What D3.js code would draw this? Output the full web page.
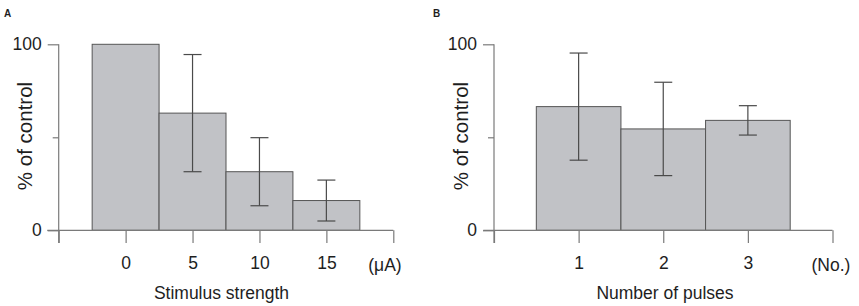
<!DOCTYPE html>
<html>
<head>
<meta charset="utf-8">
<script src="https://cdn.jsdelivr.net/npm/d3@7"></script>
<style>
  html, body { margin: 0; padding: 0; background: #fff; }
  svg { display: block; }
  text { font-family: "Liberation Sans", Arial, Helvetica, sans-serif; fill: #1e1e1e; }
</style>
</head>
<body>
<svg id="chart" width="859" height="306"></svg>
<script>
// ---- Data ----
const stimulus = [0, 5, 10, 15];
const stimMean = [100, 63, 31.5, 16];
const stimErr  = [0, 31.5, 18.3, 11];
const stimTicks = [0, 5, 10, 15];

const pulses = [1, 2, 3];
const pulseMean = [66.5, 54.5, 59.1];
const pulseErr  = [28.8, 25.1, 7.9];
const pulseTicks = [1, 2, 3];

const yTickLabels = [0, 100];
const yTicks = [0, 50, 100];

// ---- Drawing ----
const svg = d3.select("#chart");
const y = d3.scaleLinear().domain([0, 100]).range([230.3, 44.3]);

const axisColor = "#7a7a7a";
const barFill = "#c1c2c6";
const barStroke = "#555";
const errColor = "#4a4a4a";

function panel(opts) {
  const { x, cats, means, errs, ticks, barW, leftPad, unitLabel, unitX, xTitle, xTitleX, yTitleX, letter, letterX } = opts;
  const g = svg.append("g");
  const x0 = x.range()[0], x1 = x.range()[1];
  const yBase = y(0);

  // bars
  g.selectAll("rect.bar").data(cats).enter().append("rect")
    .attr("x", d => x(d - barW / 2))
    .attr("y", (d, i) => y(means[i]))
    .attr("width", x(barW) - x(0))
    .attr("height", (d, i) => yBase - y(means[i]))
    .attr("fill", barFill)
    .attr("stroke", barStroke)
    .attr("stroke-width", 1);

  // error bars
  const capHalf = 9;
  cats.forEach((c, i) => {
    if (!errs[i]) return;
    const cx = x(c);
    const hi = y(means[i] + errs[i]), lo = y(means[i] - errs[i]);
    g.append("line").attr("x1", cx).attr("x2", cx).attr("y1", hi).attr("y2", lo)
      .attr("stroke", errColor).attr("stroke-width", 1.2);
    [hi, lo].forEach(v => g.append("line").attr("x1", cx - capHalf).attr("x2", cx + capHalf)
      .attr("y1", v).attr("y2", v).attr("stroke", errColor).attr("stroke-width", 1.2));
  });

  // y axis
  const yAx = g.append("g").attr("transform", `translate(${x0},0)`)
    .call(d3.axisLeft(y).tickValues(yTicks).tickSize(11).tickSizeOuter(0)
      .tickFormat(d => yTickLabels.includes(d) ? d : "").tickPadding(6));
  yAx.select(".domain").remove();
  yAx.selectAll(".tick line").attr("stroke", axisColor).attr("stroke-width", 1.2)
    .filter(d => d === 50).attr("x2", -6);
  yAx.selectAll(".tick text").attr("font-size", 17.5).attr("font-family", null).attr("fill", "#1e1e1e");
  g.append("line").attr("x1", x0).attr("x2", x0).attr("y1", y(100)).attr("y2", yBase + 12.7)
    .attr("stroke", axisColor).attr("stroke-width", 1.2);

  // x axis
  const xAx = g.append("g").attr("transform", `translate(0,${yBase})`)
    .call(d3.axisBottom(x).tickValues([x.domain()[0], ...ticks, x.domain()[1]]).tickSize(12.7)
      .tickSizeOuter(0).tickFormat(d => ticks.includes(d) ? d : "").tickPadding(14));
  xAx.select(".domain").remove();
  xAx.selectAll(".tick line").attr("stroke", axisColor).attr("stroke-width", 1.2);
  xAx.selectAll(".tick text").attr("font-size", 17.5).attr("font-family", null).attr("fill", "#1e1e1e");
  g.append("line").attr("x1", x0 - leftPad).attr("x2", x1).attr("y1", yBase).attr("y2", yBase)
    .attr("stroke", axisColor).attr("stroke-width", 1.2);

  // unit label
  g.append("text").attr("x", unitX).attr("y", 270.5).attr("text-anchor", "middle")
    .attr("font-size", 17.5).text(unitLabel);

  // x title
  g.append("text").attr("x", xTitleX).attr("y", 299).attr("text-anchor", "middle")
    .attr("font-size", 17.5).text(xTitle);

  // y title
  g.append("text").attr("transform", `translate(${yTitleX},136) rotate(-90)`)
    .attr("text-anchor", "middle").attr("font-size", 20.5).text("% of control");

  // panel letter
  g.append("text").attr("x", letterX).attr("y", 16.8).attr("font-size", 10)
    .attr("font-weight", "bold").text(letter);
}

panel({
  x: d3.scaleLinear().domain([-5, 20]).range([58.7, 393.3]),
  cats: stimulus, means: stimMean, errs: stimErr, ticks: stimTicks,
  barW: 5, leftPad: 11.4, unitLabel: "(\u03bcA)", unitX: 385,
  xTitle: "Stimulus strength", xTitleX: 221.5, yTitleX: 32,
  letter: "A", letterX: 4
});

panel({
  x: d3.scaleLinear().domain([0, 4]).range([494, 832.5]),
  cats: pulses, means: pulseMean, errs: pulseErr, ticks: pulseTicks,
  barW: 1, leftPad: 10.7, unitLabel: "(No.)", unitX: 831,
  xTitle: "Number of pulses", xTitleX: 665, yTitleX: 468,
  letter: "B", letterX: 433
});
</script>
</body>
</html>
